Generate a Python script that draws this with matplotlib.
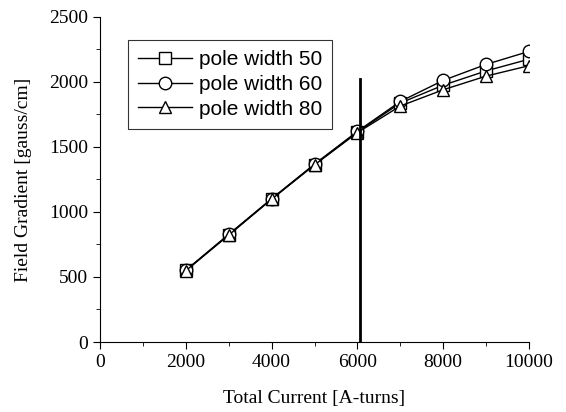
import matplotlib.pyplot as plt
from matplotlib.ticker import MultipleLocator

current = [2000, 3000, 4000, 5000, 6000, 7000, 8000, 9000, 10000]
pw50 = [550, 825, 1100, 1365, 1615, 1838, 1975, 2085, 2175]
pw60 = [552, 828, 1102, 1368, 1620, 1850, 2012, 2135, 2235]
pw80 = [548, 822, 1098, 1362, 1610, 1815, 1940, 2045, 2125]
vline_x = 6050
vline_top = 2020

plt.rcParams["font.family"] = ["Liberation Serif", "DejaVu Serif"]

fig = plt.figure(figsize=(5.66, 4.12), dpi=100)
ax = fig.add_axes([0.1767, 0.1699, 0.758, 0.789])

ax.plot(current, pw50, "-s", color="black", lw=1, ms=8, mfc="white", label="pole width 50")
ax.plot(current, pw60, "-o", color="black", lw=1, ms=9, mfc="white", label="pole width 60")
ax.plot(current, pw80, "-^", color="black", lw=1, ms=9, mfc="white", label="pole width 80")
ax.plot([vline_x, vline_x], [0, vline_top], color="black", lw=2)

ax.set_xlim(0, 10000)
ax.set_ylim(0, 2500)
ax.xaxis.set_major_locator(MultipleLocator(2000))
ax.xaxis.set_minor_locator(MultipleLocator(1000))
ax.yaxis.set_major_locator(MultipleLocator(500))
ax.yaxis.set_minor_locator(MultipleLocator(250))
ax.tick_params(which="both", direction="out", labelsize=14)
ax.tick_params(which="major", length=5)
ax.tick_params(which="minor", length=3)
ax.spines["top"].set_visible(False)
ax.spines["right"].set_visible(False)

ax.set_xlabel("Total Current [A-turns]", fontsize=14, labelpad=14)
ax.set_ylabel("Field Gradient [gauss/cm]", fontsize=14, labelpad=12)

leg = ax.legend(loc="upper left", bbox_to_anchor=(0.065, 0.93), borderaxespad=0,
                frameon=True, fancybox=False, edgecolor="black",
                prop={"family": "Liberation Sans", "size": 15},
                handlelength=2.6, handletextpad=0.3, borderpad=0.5, labelspacing=0.28)
leg.get_frame().set_linewidth(0.8)

fig.savefig("out.png", dpi=100)
